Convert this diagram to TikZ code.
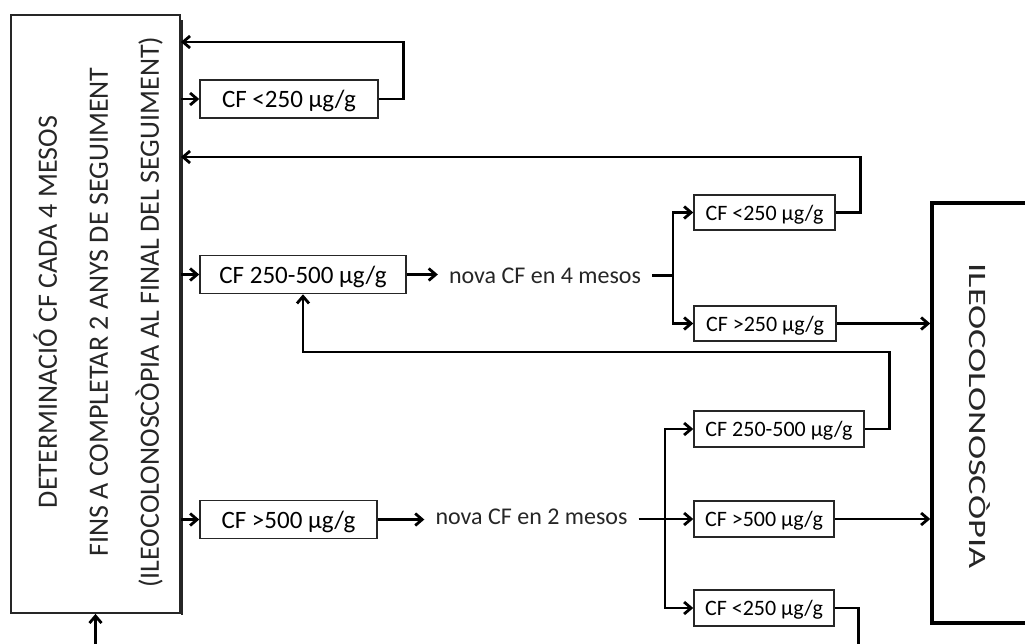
\documentclass[tikz,border=0pt]{standalone}
\usepackage{fontspec}
\setmainfont{Carlito}
\usepackage{graphicx}
\usetikzlibrary{arrows.meta}

\tikzset{
  cfbox/.style={draw=black!85, line width=1.5pt, inner sep=0pt, text depth=0pt,
    font=\fontsize{25}{30}\selectfont, minimum height=38pt},
  cfsmall/.style={cfbox, font=\fontsize{22}{26}\selectfont, minimum height=35pt},
  nova/.style={text=black!85, inner xsep=11pt, inner ysep=0pt, text depth=0pt,
    font=\fontsize{24}{28}\selectfont},
  conn/.style={line width=2.8pt, -{Straight Barb[length=7pt,width=12pt]}},
  plain/.style={line width=2.8pt},
}

\begin{document}
\begin{tikzpicture}[x=1pt,y=-1pt]
\useasboundingbox (0,0) rectangle (1025,643);

% side boxes
\node[draw=black!85, line width=1.8pt, minimum width=169pt, minimum height=598pt] (det) at (95.5,314) {};
\draw[line width=2pt, black!85] (182,20) -- (182,615);
\node[rotate=90, align=center, text=black!85, font=\fontsize{28}{51}\selectfont] (dettxt) at (98,312)
  {DETERMINACIÓ CF CADA 4 MESOS\\FINS A COMPLETAR 2 ANYS DE SEGUIMENT\\(ILEOCOLONOSCÒPIA AL FINAL DEL SEGUIMENT)};

\node[draw, line width=3.5pt, minimum width=100pt, minimum height=420pt] (ileo) at (982,413) {};
\node[rotate=-90, text=black!85, font=\fontsize{25}{28}\selectfont] (ileotxt) at (980,416)
  {\scalebox{1.46}[1]{ILEOCOLONOSCÒPIA}};

% boxes
\node[cfbox, minimum width=178pt] (lowA) at (289,99) {CF <250 µg/g};
\node[cfbox, minimum width=206pt] (midA) at (303,274.5) {CF 250-500 µg/g};
\node[cfbox, minimum width=177pt] (highA) at (288.5,519.5) {CF >500 µg/g};
\node[cfsmall, minimum width=141pt] (lowB) at (764.5,212.5) {CF <250 µg/g};
\node[cfsmall, minimum width=142pt] (highB) at (765,323.5) {CF >250 µg/g};
\node[cfsmall, minimum width=170pt, minimum height=36pt] (midC) at (779,429) {CF 250-500 µg/g};
\node[cfsmall, minimum width=140pt, minimum height=36pt] (highC) at (764,519) {CF >500 µg/g};
\node[cfsmall, minimum width=140pt, minimum height=36pt] (lowC) at (764,608) {CF <250 µg/g};

% labels
\node[nova] (nova4) at (545,275.5) {nova CF en 4 mesos};
\node[nova] (nova2) at (531.5,516.5) {nova CF en 2 mesos};
\coordinate (split4) at (673,275.5);
\coordinate (split2) at (665,519);

% arrows
\draw[conn] (lowA.west -| det.east) -- (lowA);
\draw[conn] (midA.west -| det.east) -- (midA);
\draw[conn] (highA.west -| det.east) -- (highA);
\draw[conn] (midA.east) -- (nova4.west |- midA.east);
\draw[conn] (highA.east) -- (nova2.west |- highA.east);
\draw[plain] (nova4.east |- split4) -- (split4);
\draw[conn] (split4) |- (lowB);
\draw[conn] (split4) |- (highB);
\draw[plain] (nova2.east |- split2) -- (split2);
\draw[conn] (split2) |- (midC);
\draw[conn] (split2) -- (highC);
\draw[conn] (split2) |- (lowC);
\draw[conn] (highB) -- (highB -| ileo.west);
\draw[conn] (highC) -- (highC -| ileo.west);

% loops
\draw[conn] (lowA.east) -- ++(25,0) |- (det.east |- 0,42);
\draw[conn] (lowB.east) -- ++(25,0) |- (det.east |- 0,157);
\draw[conn] (midC.east) -- ++(25,0) |- (midA.south |- 0,352) -- (midA.south);
\draw[conn] (lowC.east) -- ++(24,0) |- (det.south |- 0,670) -- (det.south);
\end{tikzpicture}
\end{document}
